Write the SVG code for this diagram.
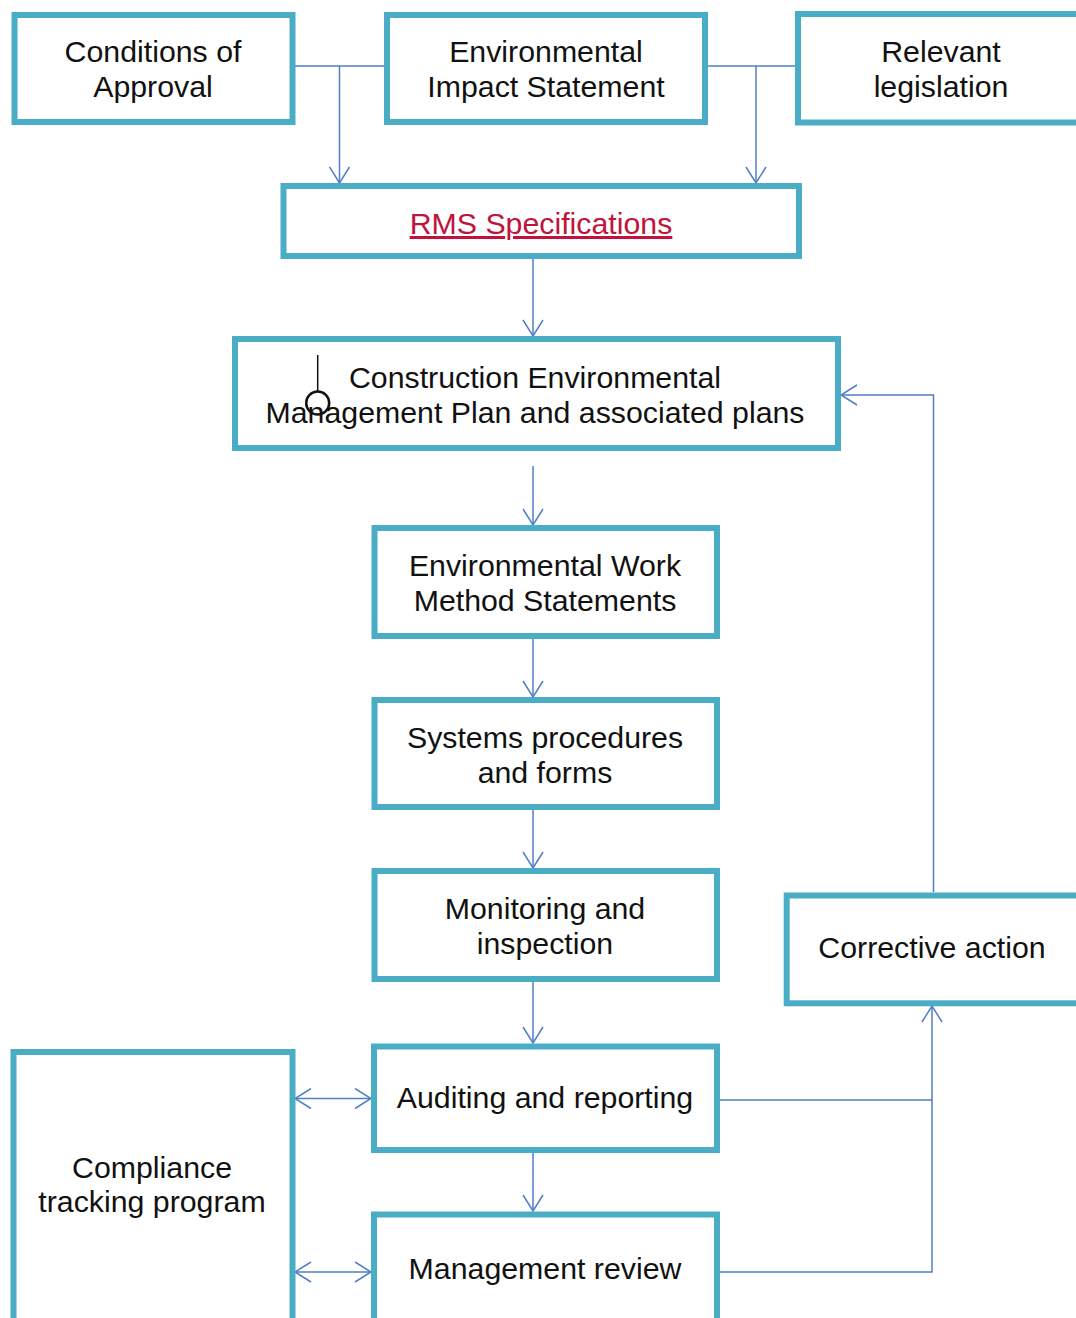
<svg xmlns="http://www.w3.org/2000/svg" width="1076" height="1318" viewBox="0 0 1076 1318">
<style>
.box{fill:#fff;stroke:#4BACC6;stroke-width:6}
.t{font-family:"Liberation Sans",Arial,sans-serif;font-size:30.3px;fill:#111;text-anchor:middle}
.c{fill:none;stroke:#4F7FC6;stroke-width:1.5}
.link{fill:#C0143C;text-decoration:underline}
</style>
<defs>
<marker id="ah" viewBox="0 0 18 22" refX="17" refY="11" markerWidth="18" markerHeight="22" markerUnits="userSpaceOnUse" orient="auto-start-reverse">
<path d="M1,1 L17,11 L1,21" fill="none" stroke="#4F7FC6" stroke-width="1.5"/>
</marker>
</defs>
<rect width="1076" height="1318" fill="#fff"/>
<g id="connectors">
<path class="c" d="M292.5,66 H387"/>
<path class="c" d="M339.5,66 V183" marker-end="url(#ah)"/>
<path class="c" d="M705,66 H798"/>
<path class="c" d="M756,66 V183" marker-end="url(#ah)"/>
<path class="c" d="M533,256 V336" marker-end="url(#ah)"/>
<path class="c" d="M533,466 V525" marker-end="url(#ah)"/>
<path class="c" d="M533,639 V697" marker-end="url(#ah)"/>
<path class="c" d="M533,810 V868" marker-end="url(#ah)"/>
<path class="c" d="M533,982 V1043" marker-end="url(#ah)"/>
<path class="c" d="M533,1153 V1211" marker-end="url(#ah)"/>
<path class="c" d="M717,1100 H932"/>
<path class="c" d="M717,1272 H932 V1006" marker-end="url(#ah)"/>
<path class="c" d="M933.5,892 V395 H841" marker-end="url(#ah)"/>
<path class="c" d="M295,1098.5 H371" marker-start="url(#ah)" marker-end="url(#ah)"/>
<path class="c" d="M295,1272 H371" marker-start="url(#ah)" marker-end="url(#ah)"/>
</g>
<g id="conditions">
<rect class="box" x="14.5" y="15" width="278" height="107"/>
<text class="t" x="153" y="62">Conditions of</text>
<text class="t" x="153" y="97">Approval</text>
</g>
<g id="eis">
<rect class="box" x="387" y="15" width="318" height="107"/>
<text class="t" x="546" y="62">Environmental</text>
<text class="t" x="546" y="97">Impact Statement</text>
</g>
<g id="legislation">
<rect class="box" x="798" y="14" width="300" height="108.5"/>
<text class="t" x="941" y="62">Relevant</text>
<text class="t" x="941" y="97">legislation</text>
</g>
<g id="rms">
<rect class="box" x="283.5" y="186" width="515.5" height="70"/>
<text class="t link" x="541" y="234">RMS Specifications</text>
</g>
<g id="cemp">
<rect class="box" x="235" y="339" width="603" height="109"/>
<text class="t" x="535" y="388">Construction Environmental</text>
<text class="t" x="535" y="423">Management Plan and associated plans</text>
<line x1="317.7" y1="355" x2="317.7" y2="391" stroke="#111" stroke-width="1.5"/>
<circle cx="317.7" cy="403" r="11.5" fill="none" stroke="#111" stroke-width="2.5"/>
</g>
<g id="ewms">
<rect class="box" x="374.5" y="528" width="342.5" height="108"/>
<text class="t" x="545" y="576">Environmental Work</text>
<text class="t" x="545" y="611">Method Statements</text>
</g>
<g id="systems">
<rect class="box" x="374.5" y="700" width="342.5" height="107"/>
<text class="t" x="545" y="748">Systems procedures</text>
<text class="t" x="545" y="783">and forms</text>
</g>
<g id="monitoring">
<rect class="box" x="374.5" y="871" width="342.5" height="108"/>
<text class="t" x="545" y="919">Monitoring and</text>
<text class="t" x="545" y="954">inspection</text>
</g>
<g id="corrective">
<rect class="box" x="786.7" y="895.5" width="300" height="107.8"/>
<text class="t" x="932" y="958">Corrective action</text>
</g>
<g id="auditing">
<rect class="box" x="374" y="1046.5" width="343" height="103.5"/>
<text class="t" x="545" y="1108">Auditing and reporting</text>
</g>
<g id="review">
<rect class="box" x="374" y="1214.5" width="343" height="120"/>
<text class="t" x="545" y="1279">Management review</text>
</g>
<g id="compliance">
<rect class="box" x="13.5" y="1052" width="279" height="290"/>
<text class="t" x="152" y="1178">Compliance</text>
<text class="t" x="152" y="1212">tracking program</text>
</g>
</svg>
